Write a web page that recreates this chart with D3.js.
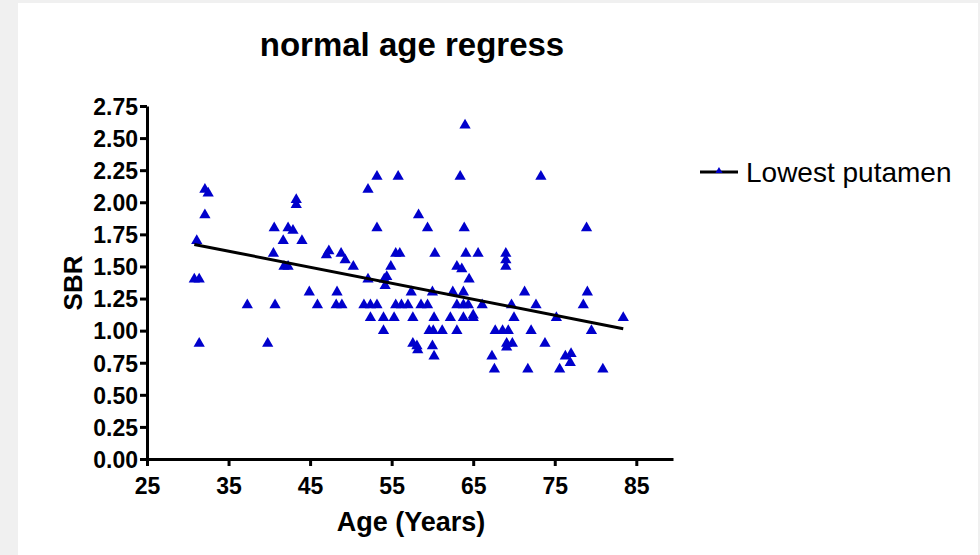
<!DOCTYPE html>
<html>
<head>
<meta charset="utf-8">
<script src="https://cdn.jsdelivr.net/npm/d3@7"></script>
<style>
  body { margin: 0; background: #f0f0f0; }
  svg { display: block; font-family: "Liberation Sans", Arial, sans-serif; }
</style>
</head>
<body>
<div id="container"></div>
<script>
// age (years) and SBR for each subject
const ages = [30.8, 31.4, 31.1, 31.4, 32.1, 32.5, 32.1, 37.3, 39.8, 40.5,
  40.6, 40.7, 41.7, 41.8, 42.3, 42.3, 42.9, 43.3, 43.3, 44.0,
  44.9, 45.9, 47.0, 47.3, 48.3, 48.2, 48.8, 48.9, 49.3, 50.3,
  51.6, 52.1, 52.1, 52.4, 52.4, 53.2, 53.2, 53.2, 54.0, 54.0,
  54.1, 54.4, 54.2, 54.9, 55.3, 55.5, 55.5, 55.8, 56.0, 56.2,
  57.0, 57.4, 57.6, 57.6, 58.1, 58.2, 58.3, 58.6, 59.4, 59.4,
  59.6, 60.0, 60.0, 60.1, 60.2, 60.2, 60.3, 61.2, 62.2, 62.5,
  63.0, 63.0, 63.0, 63.4, 63.6, 63.8, 63.8, 63.8, 63.9, 64.0,
  64.1, 64.4, 64.5, 65.0, 65.0, 65.6, 66.1, 67.3, 67.6, 67.7,
  68.6, 69.0, 69.0, 69.0, 69.1, 69.1, 69.3, 69.7, 69.8, 70.0,
  71.3, 71.7, 72.1, 72.7, 73.3, 73.8, 75.2, 75.6, 76.3, 76.9,
  77.0, 78.5, 78.9, 79.0, 79.5, 80.9, 83.4];
const sbr = [1.4, 1.4, 1.7, 0.9, 2.1, 2.07, 1.9, 1.2, 0.9, 1.6,
  1.8, 1.2, 1.7, 1.5, 1.5, 1.8, 1.78, 2.02, 1.98, 1.7,
  1.3, 1.2, 1.59, 1.62, 1.3, 1.2, 1.6, 1.2, 1.55, 1.5,
  1.2, 2.1, 1.4, 1.2, 1.1, 2.2, 1.8, 1.2, 1.1, 1.0,
  1.4, 1.42, 1.35, 1.5, 1.1, 1.6, 1.2, 2.2, 1.6, 1.2,
  1.2, 1.3, 1.1, 0.9, 0.88, 0.85, 1.9, 1.2, 1.8, 1.2,
  1.0, 1.3, 0.88, 1.0, 1.1, 0.8, 1.6, 1.0, 1.1, 1.3,
  1.5, 1.2, 1.0, 2.2, 1.48, 1.3, 1.2, 1.1, 1.8, 2.6,
  1.6, 1.2, 1.4, 1.12, 1.1, 1.6, 1.2, 0.8, 0.7, 1.0,
  1.0, 1.6, 1.55, 1.5, 0.9, 0.87, 1.0, 1.2, 0.9, 1.1,
  1.3, 0.7, 1.0, 1.2, 2.2, 0.9, 1.1, 0.7, 0.8, 0.75,
  0.82, 1.2, 1.8, 1.3, 1.0, 0.7, 1.1];
const xTicks = [25, 35, 45, 55, 65, 75, 85];
const yTicks = [0, 0.25, 0.5, 0.75, 1, 1.25, 1.5, 1.75, 2, 2.25, 2.5, 2.75];
const seriesName = 'Lowest putamen';

const w = 980, h = 555;
const blue = '#0000cc';

const points = ages.map((a, i) => [a, sbr[i]]);

// least squares fit
const mx = d3.mean(ages), my = d3.mean(sbr);
const slope = d3.sum(points, d => (d[0] - mx) * (d[1] - my)) / d3.sum(points, d => (d[0] - mx) * (d[0] - mx));
const icpt = my - slope * mx;
const fitX = d3.extent(ages);

const xScale = d3.scaleLinear().domain([25, 89.5]).range([147, 673]);
const yScale = d3.scaleLinear().domain([0, 2.75]).range([459, 106]);

const svg = d3.select('#container').append('svg')
  .attr('width', w).attr('height', h);

svg.append('rect').attr('x', 18).attr('y', 3).attr('width', 960).attr('height', 552).attr('fill', '#fff');

svg.append('text').attr('x', 412).attr('y', 56).attr('text-anchor', 'middle')
  .attr('font-size', 33).attr('font-weight', 'bold').text('normal age regress');

const xAxis = d3.axisBottom(xScale).tickValues(xTicks).tickSize(7).tickSizeOuter(0).tickPadding(12);
const yAxis = d3.axisLeft(yScale).tickValues(yTicks).tickSize(7).tickSizeOuter(0).tickPadding(2)
  .tickFormat(d3.format('.2f'));

const gx = svg.append('g').attr('transform', 'translate(0,' + 459 + ')').call(xAxis);
const gy = svg.append('g').attr('transform', 'translate(147,0)').call(yAxis);

[gx, gy].forEach(g => {
  g.select('.domain').attr('stroke', '#000').attr('stroke-width', 3);
  g.selectAll('.tick line').attr('stroke', '#000').attr('stroke-width', 3);
  g.selectAll('.tick text').attr('fill', '#000').attr('font-size', 23).attr('font-weight', 'bold')
    .attr('font-family', '"Liberation Sans", Arial, sans-serif');
});
gy.selectAll('.tick text').attr('dy', '0.36em');

svg.append('text').attr('x', 411).attr('y', 531).attr('text-anchor', 'middle')
  .attr('font-size', 27).attr('font-weight', 'bold').text('Age (Years)');
svg.append('text').attr('transform', 'translate(82,283) rotate(-90)').attr('text-anchor', 'middle')
  .attr('font-size', 26).attr('font-weight', 'bold').text('SBR');

const tri = d3.symbol().type(d3.symbolTriangle).size(55);

svg.append('g').selectAll('path')
  .data(points).enter().append('path')
  .attr('d', tri)
  .attr('transform', d => 'translate(' + xScale(d[0]) + ',' + yScale(d[1]) + ')')
  .attr('fill', blue);

svg.append('line')
  .attr('x1', xScale(fitX[0])).attr('y1', yScale(icpt + slope * fitX[0]))
  .attr('x2', xScale(fitX[1])).attr('y2', yScale(icpt + slope * fitX[1]))
  .attr('stroke', '#000').attr('stroke-width', 3);

// legend
const lg = svg.append('g').attr('transform', 'translate(700,172)');
lg.append('line').attr('x1', 0).attr('x2', 38).attr('stroke', '#000').attr('stroke-width', 3);
lg.append('path').attr('d', d3.symbol().type(d3.symbolTriangle).size(22)).attr('transform', 'translate(19,-1)').attr('fill', blue);
lg.append('text').attr('x', 46).attr('y', 10).attr('font-size', 28).text(seriesName);
</script>
</body>
</html>
